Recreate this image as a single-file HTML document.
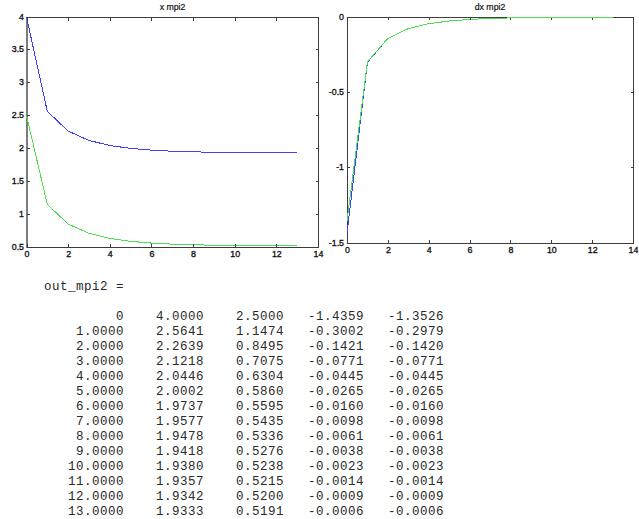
<!DOCTYPE html>
<html><head><meta charset="utf-8"><style>
html,body{margin:0;padding:0;background:#fff;width:639px;height:519px;overflow:hidden;position:relative}
svg{position:absolute;left:0;top:0}
.tk{font-family:"Liberation Sans",sans-serif;font-size:9.5px;fill:#111;stroke:#111;stroke-width:0.35px}
.tt{font-family:"Liberation Sans",sans-serif;font-size:9px;fill:#111;stroke:#111;stroke-width:0.2px}
pre{position:absolute;left:44px;top:280px;margin:0;font-family:"Liberation Mono",monospace;font-size:12.5px;letter-spacing:0.5px;line-height:15px;color:#2a2a2a}
</style></head><body>
<svg width="639" height="519" viewBox="0 0 639 519">
<rect x="27" y="17" width="292" height="1" fill="#3c3c3c"/>
<rect x="27" y="247" width="292" height="1" fill="#3c3c3c"/>
<rect x="318" y="17" width="1" height="231" fill="#3c3c3c"/>
<rect x="26" y="17" width="2" height="231" fill="#7c7c7c"/>
<polyline points="26.50,17.00 47.32,111.36 68.14,131.09 88.96,140.42 109.79,145.50 130.61,148.42 151.43,150.16 172.25,151.21 193.07,151.86 213.89,152.25 234.71,152.50 255.54,152.65 276.36,152.75 297.18,152.81" fill="none" stroke="#4040ff" stroke-width="1" shape-rendering="crispEdges"/>
<polyline points="26.50,115.57 47.32,204.46 68.14,224.03 88.96,233.36 109.79,238.43 130.61,241.35 151.43,243.09 172.25,244.14 193.07,244.79 213.89,245.19 234.71,245.44 255.54,245.59 276.36,245.69 297.18,245.74" fill="none" stroke="#50dd50" stroke-width="1" shape-rendering="crispEdges"/>
<rect x="27" y="244" width="1" height="3" fill="#3c3c3c"/>
<rect x="27" y="18" width="1" height="3" fill="#3c3c3c"/>
<rect x="68" y="244" width="1" height="3" fill="#3c3c3c"/>
<rect x="68" y="18" width="1" height="3" fill="#3c3c3c"/>
<rect x="110" y="244" width="1" height="3" fill="#3c3c3c"/>
<rect x="110" y="18" width="1" height="3" fill="#3c3c3c"/>
<rect x="151" y="244" width="1" height="3" fill="#3c3c3c"/>
<rect x="151" y="18" width="1" height="3" fill="#3c3c3c"/>
<rect x="193" y="244" width="1" height="3" fill="#3c3c3c"/>
<rect x="193" y="18" width="1" height="3" fill="#3c3c3c"/>
<rect x="235" y="244" width="1" height="3" fill="#3c3c3c"/>
<rect x="235" y="18" width="1" height="3" fill="#3c3c3c"/>
<rect x="276" y="244" width="1" height="3" fill="#3c3c3c"/>
<rect x="276" y="18" width="1" height="3" fill="#3c3c3c"/>
<rect x="318" y="244" width="1" height="3" fill="#3c3c3c"/>
<rect x="318" y="18" width="1" height="3" fill="#3c3c3c"/>
<rect x="27" y="247" width="3" height="1" fill="#3c3c3c"/>
<rect x="316" y="247" width="3" height="1" fill="#3c3c3c"/>
<rect x="27" y="214" width="3" height="1" fill="#3c3c3c"/>
<rect x="316" y="214" width="3" height="1" fill="#3c3c3c"/>
<rect x="27" y="181" width="3" height="1" fill="#3c3c3c"/>
<rect x="316" y="181" width="3" height="1" fill="#3c3c3c"/>
<rect x="27" y="148" width="3" height="1" fill="#3c3c3c"/>
<rect x="316" y="148" width="3" height="1" fill="#3c3c3c"/>
<rect x="27" y="115" width="3" height="1" fill="#3c3c3c"/>
<rect x="316" y="115" width="3" height="1" fill="#3c3c3c"/>
<rect x="27" y="82" width="3" height="1" fill="#3c3c3c"/>
<rect x="316" y="82" width="3" height="1" fill="#3c3c3c"/>
<rect x="27" y="49" width="3" height="1" fill="#3c3c3c"/>
<rect x="316" y="49" width="3" height="1" fill="#3c3c3c"/>
<rect x="27" y="17" width="3" height="1" fill="#3c3c3c"/>
<rect x="316" y="17" width="3" height="1" fill="#3c3c3c"/>
<text transform="translate(27.00,257.20) scale(0.930,1)" text-anchor="middle" class="tk">0</text>
<text transform="translate(68.64,257.20) scale(0.930,1)" text-anchor="middle" class="tk">2</text>
<text transform="translate(110.29,257.20) scale(0.930,1)" text-anchor="middle" class="tk">4</text>
<text transform="translate(151.93,257.20) scale(0.930,1)" text-anchor="middle" class="tk">6</text>
<text transform="translate(193.57,257.20) scale(0.930,1)" text-anchor="middle" class="tk">8</text>
<text transform="translate(235.21,257.20) scale(0.930,1)" text-anchor="middle" class="tk">10</text>
<text transform="translate(276.86,257.20) scale(0.930,1)" text-anchor="middle" class="tk">12</text>
<text transform="translate(318.50,257.20) scale(0.930,1)" text-anchor="middle" class="tk">14</text>
<text transform="translate(24.00,249.80) scale(0.930,1)" text-anchor="end" class="tk">0.5</text>
<text transform="translate(24.00,216.80) scale(0.930,1)" text-anchor="end" class="tk">1</text>
<text transform="translate(24.00,183.80) scale(0.930,1)" text-anchor="end" class="tk">1.5</text>
<text transform="translate(24.00,150.80) scale(0.930,1)" text-anchor="end" class="tk">2</text>
<text transform="translate(24.00,117.80) scale(0.930,1)" text-anchor="end" class="tk">2.5</text>
<text transform="translate(24.00,84.80) scale(0.930,1)" text-anchor="end" class="tk">3</text>
<text transform="translate(24.00,51.80) scale(0.930,1)" text-anchor="end" class="tk">3.5</text>
<text transform="translate(24.00,19.80) scale(0.930,1)" text-anchor="end" class="tk">4</text>
<text transform="translate(172.50,10.30) scale(0.970,1)" text-anchor="middle" class="tt">x mpi2</text>
<rect x="347" y="17" width="287" height="1" fill="#3c3c3c"/>
<rect x="347" y="243" width="287" height="1" fill="#3c3c3c"/>
<rect x="633" y="17" width="1" height="227" fill="#3c3c3c"/>
<rect x="347" y="17" width="1" height="227" fill="#3c3c3c"/>
<polyline points="347.00,233.34 367.43,62.23 387.86,38.41 408.29,28.62 428.71,23.70 449.14,20.99 469.57,19.41 490.00,18.48 510.43,17.92 530.86,17.57 551.29,17.35 571.71,17.21 592.14,17.14 612.57,17.09" fill="none" stroke="#4040ff" stroke-width="1" shape-rendering="crispEdges"/>
<polyline points="347.00,220.79 367.43,61.88 387.86,38.39 408.29,28.62 428.71,23.70 449.14,20.99 469.57,19.41 490.00,18.48 510.43,17.92 530.86,17.57 551.29,17.35 571.71,17.21 592.14,17.14 612.57,17.09" fill="none" stroke="#50dd50" stroke-width="1" shape-rendering="crispEdges"/>
<rect x="347" y="240" width="1" height="3" fill="#3c3c3c"/>
<rect x="347" y="18" width="1" height="2" fill="#3c3c3c"/>
<rect x="388" y="240" width="1" height="3" fill="#3c3c3c"/>
<rect x="388" y="18" width="1" height="2" fill="#3c3c3c"/>
<rect x="429" y="240" width="1" height="3" fill="#3c3c3c"/>
<rect x="429" y="18" width="1" height="2" fill="#3c3c3c"/>
<rect x="470" y="240" width="1" height="3" fill="#3c3c3c"/>
<rect x="470" y="18" width="1" height="2" fill="#3c3c3c"/>
<rect x="510" y="240" width="1" height="3" fill="#3c3c3c"/>
<rect x="510" y="18" width="1" height="2" fill="#3c3c3c"/>
<rect x="551" y="240" width="1" height="3" fill="#3c3c3c"/>
<rect x="551" y="18" width="1" height="2" fill="#3c3c3c"/>
<rect x="592" y="240" width="1" height="3" fill="#3c3c3c"/>
<rect x="592" y="18" width="1" height="2" fill="#3c3c3c"/>
<rect x="633" y="240" width="1" height="3" fill="#3c3c3c"/>
<rect x="633" y="18" width="1" height="2" fill="#3c3c3c"/>
<rect x="347" y="243" width="3" height="1" fill="#3c3c3c"/>
<rect x="631" y="243" width="3" height="1" fill="#3c3c3c"/>
<rect x="347" y="167" width="3" height="1" fill="#3c3c3c"/>
<rect x="631" y="167" width="3" height="1" fill="#3c3c3c"/>
<rect x="347" y="92" width="3" height="1" fill="#3c3c3c"/>
<rect x="631" y="92" width="3" height="1" fill="#3c3c3c"/>
<rect x="347" y="17" width="3" height="1" fill="#3c3c3c"/>
<rect x="631" y="17" width="3" height="1" fill="#3c3c3c"/>
<text transform="translate(347.50,253.20) scale(0.930,1)" text-anchor="middle" class="tk">0</text>
<text transform="translate(388.36,253.20) scale(0.930,1)" text-anchor="middle" class="tk">2</text>
<text transform="translate(429.21,253.20) scale(0.930,1)" text-anchor="middle" class="tk">4</text>
<text transform="translate(470.07,253.20) scale(0.930,1)" text-anchor="middle" class="tk">6</text>
<text transform="translate(510.93,253.20) scale(0.930,1)" text-anchor="middle" class="tk">8</text>
<text transform="translate(551.79,253.20) scale(0.930,1)" text-anchor="middle" class="tk">10</text>
<text transform="translate(592.64,253.20) scale(0.930,1)" text-anchor="middle" class="tk">12</text>
<text transform="translate(633.50,253.20) scale(0.930,1)" text-anchor="middle" class="tk">14</text>
<text transform="translate(344.00,245.80) scale(0.930,1)" text-anchor="end" class="tk">-1.5</text>
<text transform="translate(344.00,169.80) scale(0.930,1)" text-anchor="end" class="tk">-1</text>
<text transform="translate(344.00,94.80) scale(0.930,1)" text-anchor="end" class="tk">-0.5</text>
<text transform="translate(344.00,19.80) scale(0.930,1)" text-anchor="end" class="tk">0</text>
<text transform="translate(490.00,10.30) scale(0.970,1)" text-anchor="middle" class="tt">dx mpi2</text>
</svg>
<pre>out_mpi2 =

         0    4.0000    2.5000   -1.4359   -1.3526
    1.0000    2.5641    1.1474   -0.3002   -0.2979
    2.0000    2.2639    0.8495   -0.1421   -0.1420
    3.0000    2.1218    0.7075   -0.0771   -0.0771
    4.0000    2.0446    0.6304   -0.0445   -0.0445
    5.0000    2.0002    0.5860   -0.0265   -0.0265
    6.0000    1.9737    0.5595   -0.0160   -0.0160
    7.0000    1.9577    0.5435   -0.0098   -0.0098
    8.0000    1.9478    0.5336   -0.0061   -0.0061
    9.0000    1.9418    0.5276   -0.0038   -0.0038
   10.0000    1.9380    0.5238   -0.0023   -0.0023
   11.0000    1.9357    0.5215   -0.0014   -0.0014
   12.0000    1.9342    0.5200   -0.0009   -0.0009
   13.0000    1.9333    0.5191   -0.0006   -0.0006</pre>
</body></html>
